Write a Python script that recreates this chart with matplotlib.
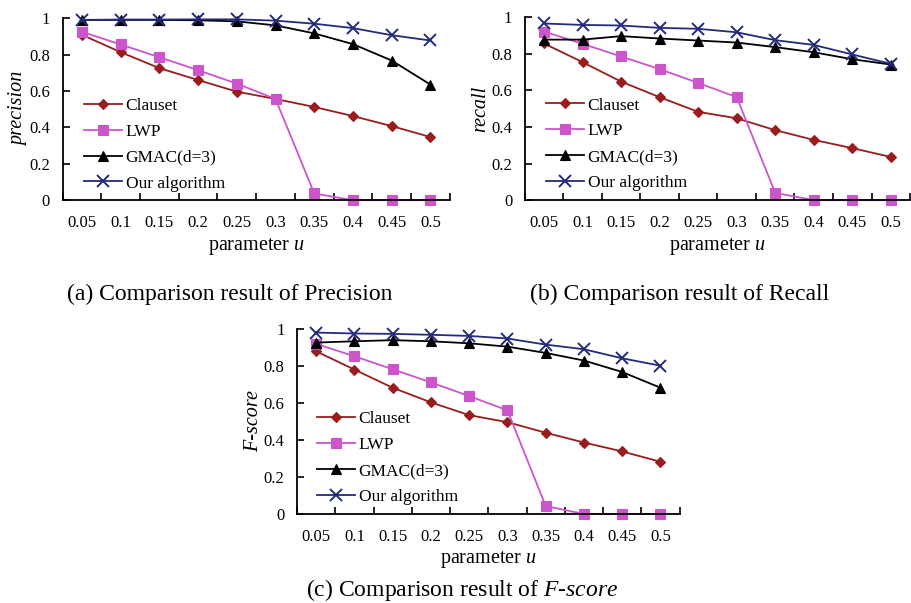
import matplotlib
matplotlib.use("Agg")
import matplotlib.pyplot as plt
import numpy as np

plt.rcParams['font.family'] = ['Liberation Serif', 'DejaVu Serif']
plt.rcParams['mathtext.fontset'] = 'custom'
plt.rcParams['mathtext.rm'] = 'Liberation Serif'
plt.rcParams['mathtext.it'] = 'Liberation Serif:italic'

u_labels = ['0.05', '0.1', '0.15', '0.2', '0.25', '0.3', '0.35', '0.4', '0.45', '0.5']
methods = ['Clauset', 'LWP', 'GMAC(d=3)', 'Our algorithm']

precision_clauset = [0.908, 0.813, 0.725, 0.66, 0.596, 0.556, 0.512, 0.462, 0.407, 0.347]
precision_lwp = [0.925, 0.855, 0.785, 0.714, 0.640, 0.556, 0.037, 0.0, 0.0, 0.0]
precision_gmac = [0.99, 0.99, 0.99, 0.988, 0.982, 0.96, 0.916, 0.857, 0.767, 0.635]
precision_ours = [0.99, 0.992, 0.992, 0.993, 0.993, 0.986, 0.969, 0.945, 0.906, 0.877]

recall_clauset = [0.855, 0.753, 0.647, 0.562, 0.482, 0.447, 0.382, 0.329, 0.284, 0.236]
recall_lwp = [0.92, 0.853, 0.784, 0.715, 0.64, 0.562, 0.04, 0.0, 0.0, 0.0]
recall_gmac = [0.876, 0.876, 0.895, 0.882, 0.871, 0.86, 0.835, 0.807, 0.769, 0.74]
recall_ours = [0.964, 0.956, 0.953, 0.94, 0.935, 0.916, 0.873, 0.847, 0.795, 0.744]

fscore_clauset = [0.879, 0.78, 0.682, 0.603, 0.534, 0.496, 0.439, 0.386, 0.338, 0.282]
fscore_lwp = [0.919, 0.852, 0.782, 0.711, 0.637, 0.56, 0.043, 0.0, 0.0, 0.0]
fscore_gmac = [0.926, 0.933, 0.939, 0.933, 0.922, 0.904, 0.87, 0.829, 0.767, 0.682]
fscore_ours = [0.98, 0.975, 0.973, 0.968, 0.962, 0.948, 0.915, 0.89, 0.841, 0.801]

colors = ['#9A1C1C', '#CC55CC', '#000000', '#232B7A']
markers = ['D', 's', '^', 'x']
msizes = [5, 7, 7, 9]


def draw_panel(ax, series, ylabel, legend_xy):
    x = np.arange(len(u_labels))
    for vals, name, c, m, ms in zip(series, methods, colors, markers, msizes):
        ax.plot(x, vals, color=c, marker=m, markersize=ms, lw=1.3,
                mew=1.4 if m == 'x' else 0.8, label=name, clip_on=False)
    ax.set_xlim(-0.5, len(u_labels) - 0.5)
    ax.set_ylim(0, 1)
    # category axis: tick marks between categories, labels at centres
    ax.set_xticks(np.arange(-0.5, len(u_labels), 1.0))
    ax.set_xticklabels([])
    ax.set_xticks(x, minor=True)
    ax.set_xticklabels(u_labels, minor=True)
    ax.tick_params(axis='x', which='major', direction='in', length=5, width=1.2)
    ax.tick_params(axis='x', which='minor', length=0, pad=11, labelsize=12)
    ax.set_yticks([0, 0.2, 0.4, 0.6, 0.8, 1.0])
    ax.set_yticklabels(['0', '0.2', '0.4', '0.6', '0.8', '1'])
    ax.tick_params(axis='y', direction='in', length=5, width=1.2, pad=9, labelsize=12)
    for s in ['top', 'right']:
        ax.spines[s].set_visible(False)
    for s in ['left', 'bottom']:
        ax.spines[s].set_linewidth(1.3)
    ax.set_xlabel('parameter $u$', fontsize=14.5, labelpad=3)
    ax.set_ylabel(ylabel, fontsize=14.5, style='italic', labelpad=0.5)
    ax.legend(loc='center left', bbox_to_anchor=legend_xy, frameon=False,
              fontsize=12.5, borderpad=0, borderaxespad=0, handlelength=2.2,
              handletextpad=0.2, labelspacing=0.56)


fig = plt.figure(figsize=(9.11, 6.03), dpi=100)
ax_a = fig.add_axes([0.0687, 0.668, 0.425, 0.302])
ax_b = fig.add_axes([0.576, 0.668, 0.423, 0.304])
ax_c = fig.add_axes([0.326, 0.1476, 0.420, 0.307])

draw_panel(ax_a, [precision_clauset, precision_lwp, precision_gmac, precision_ours],
           'precision', (0.055, 0.305))
draw_panel(ax_b, [recall_clauset, recall_lwp, recall_gmac, recall_ours],
           'recall', (0.055, 0.305))
draw_panel(ax_c, [fscore_clauset, fscore_lwp, fscore_gmac, fscore_ours],
           'F-score', (0.052, 0.302))

fig.text(230 / 911, 1 - 294 / 603, '(a) Comparison result of Precision',
         ha='center', va='center', fontsize=17)
fig.text(680 / 911, 1 - 294 / 603, '(b) Comparison result of Recall',
         ha='center', va='center', fontsize=17)
fig.text(462 / 911, 1 - 590 / 603, '(c) Comparison result of $F$-$score$',
         ha='center', va='center', fontsize=17)

fig.savefig('out.png', dpi=100)
